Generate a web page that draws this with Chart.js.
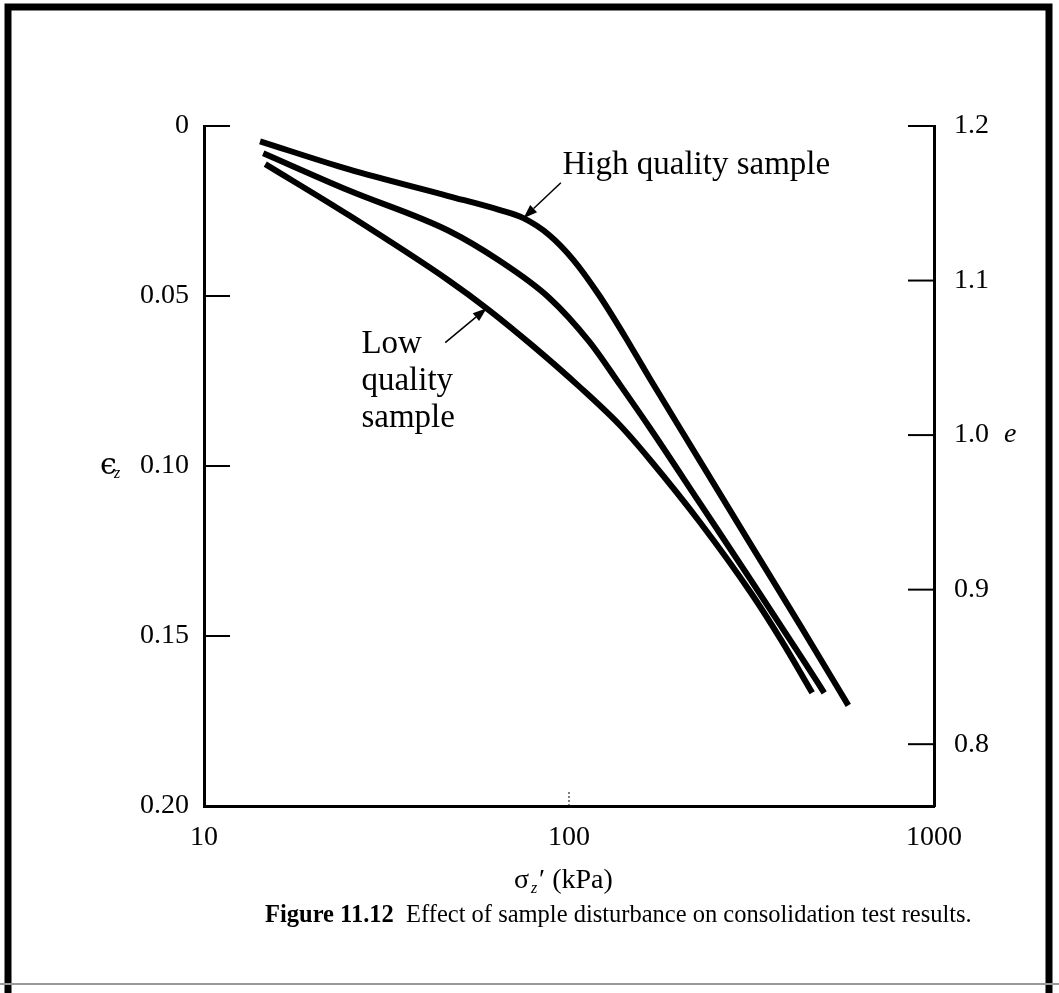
<!DOCTYPE html>
<html>
<head>
<meta charset="utf-8">
<script src="https://cdn.jsdelivr.net/npm/chart.js@4.4.0/dist/chart.umd.min.js"></script>
<style>
  html, body { margin: 0; padding: 0; background: #fff; }
  canvas { display: block; }
</style>
</head>
<body>
<canvas id="chart" width="1059" height="993"></canvas>
<script>
// axis ticks
const stressTicks = [10, 100, 1000];
const strainTicks = [0, 0.05, 0.10, 0.15, 0.20];
const voidTicks = [0.8, 0.9, 1.0, 1.1, 1.2];

// curves: effective stress (kPa) vs vertical strain
const highStress = [14.24, 24.83, 46.7, 64.05, 75.03, 87.9, 103.0, 120.8, 141.8, 166.3, 229.0, 315.2, 434.1, 582.4];
const highStrain = [0.0045, 0.0127, 0.0206, 0.0246, 0.0271, 0.0319, 0.0395, 0.0497, 0.0616, 0.0742, 0.0987, 0.1232, 0.1476, 0.1704];

const midStress = [14.53, 24.86, 46.79, 64.23, 88.19, 113.8, 137.7, 166.8, 229.5, 315.7, 434.7, 500.3];
const midStrain = [0.0080, 0.0189, 0.0308, 0.0395, 0.0505, 0.0635, 0.0760, 0.0889, 0.1113, 0.1337, 0.1565, 0.1667];

const lowStress = [14.72, 24.9, 46.92, 60.46, 79.45, 107.1, 138.1, 167.1, 229.8, 316.0, 382.9, 463.8];
const lowStrain = [0.0112, 0.0262, 0.0455, 0.0542, 0.0646, 0.0768, 0.0881, 0.0983, 0.1169, 0.1375, 0.1515, 0.1667];

const toPoints = (xs, ys) => xs.map((x, i) => ({ x: x, y: ys[i] }));

const serif = '"Liberation Serif", "DejaVu Serif", serif';

function line(data) {
  return {
    data: data,
    borderColor: '#000',
    borderWidth: 6,
    pointRadius: 0,
    fill: false,
    cubicInterpolationMode: 'monotone',
    xAxisID: 'x',
    yAxisID: 'y'
  };
}

function arrow(ctx, x1, y1, x2, y2) {
  const a = Math.atan2(y2 - y1, x2 - x1);
  const len = 14, half = 5;
  ctx.beginPath();
  ctx.moveTo(x1, y1);
  ctx.lineTo(x2 - Math.cos(a) * len, y2 - Math.sin(a) * len);
  ctx.lineWidth = 1.5;
  ctx.stroke();
  ctx.beginPath();
  ctx.moveTo(x2, y2);
  ctx.lineTo(x2 - Math.cos(a) * len - Math.sin(a) * half, y2 - Math.sin(a) * len + Math.cos(a) * half);
  ctx.lineTo(x2 - Math.cos(a) * len + Math.sin(a) * half, y2 - Math.sin(a) * len - Math.cos(a) * half);
  ctx.closePath();
  ctx.fill();
}

const decorations = {
  id: 'decorations',
  beforeDraw(chart) {
    const ctx = chart.ctx;
    ctx.save();
    ctx.fillStyle = '#fff';
    ctx.fillRect(0, 0, chart.width, chart.height);
    ctx.restore();
  },
  afterDraw(chart) {
    const { ctx, chartArea: a, scales } = chart;
    const x = scales.x, y = scales.y, y2 = scales.y2;
    ctx.save();
    ctx.strokeStyle = '#000';
    ctx.fillStyle = '#000';

    // page frame
    ctx.lineWidth = 7;
    ctx.beginPath();
    ctx.moveTo(8, chart.height);
    ctx.lineTo(8, 7);
    ctx.lineTo(1049, 7);
    ctx.lineTo(1049, chart.height);
    ctx.stroke();
    ctx.strokeStyle = '#999';
    ctx.lineWidth = 2;
    ctx.beginPath();
    ctx.moveTo(0, 984);
    ctx.lineTo(chart.width, 984);
    ctx.stroke();
    ctx.strokeStyle = '#000';

    // inward tick marks
    ctx.lineWidth = 2;
    strainTicks.forEach(v => {
      const py = y.getPixelForValue(v);
      ctx.beginPath(); ctx.moveTo(a.left, py); ctx.lineTo(a.left + 26, py); ctx.stroke();
    });
    voidTicks.forEach(v => {
      const py = y2.getPixelForValue(v);
      ctx.beginPath(); ctx.moveTo(a.right, py); ctx.lineTo(a.right - 26, py); ctx.stroke();
    });
    ctx.lineWidth = 1;
    ctx.setLineDash([2, 2]);
    const p100 = x.getPixelForValue(100);
    ctx.beginPath(); ctx.moveTo(p100, a.bottom); ctx.lineTo(p100, a.bottom - 16); ctx.stroke();
    ctx.setLineDash([]);

    // axis symbols
    ctx.textBaseline = 'middle';
    ctx.textAlign = 'left';
    ctx.font = '30px "DejaVu Serif", ' + serif;
    const yEps = y.getPixelForValue(0.10);
    ctx.fillText('\u03F5', a.left - 104, yEps);
    ctx.font = 'italic 16px ' + serif;
    ctx.fillText('z', a.left - 90, yEps + 8);
    ctx.font = 'italic 28px ' + serif;
    ctx.fillText('e', a.right + 70, y2.getPixelForValue(1.0));

    // x axis title
    const cx = x.getPixelForValue(100);
    const ty = a.bottom + 75;
    ctx.font = '28px ' + serif;
    ctx.fillText('\u03C3', cx - 55, ty);
    ctx.font = 'italic 16px ' + serif;
    ctx.fillText('z', cx - 38, ty + 8);
    ctx.font = '28px ' + serif;
    ctx.fillText('\u2032 (kPa)', cx - 30, ty);

    // caption
    const capY = a.bottom + 110;
    ctx.font = 'bold 24.5px ' + serif;
    const fig = 'Figure 11.12';
    ctx.fillText(fig, 265, capY);
    const w = ctx.measureText(fig).width;
    ctx.font = '24.5px ' + serif;
    ctx.fillText('  Effect of sample disturbance on consolidation test results.', 265 + w, capY);

    // annotations
    ctx.font = '33px ' + serif;
    ctx.fillText('High quality sample', x.getPixelForValue(96), y.getPixelForValue(0.0115));
    arrow(ctx, x.getPixelForValue(95), y.getPixelForValue(0.0167), x.getPixelForValue(75.03), y.getPixelForValue(0.0271));

    const lx = x.getPixelForValue(27);
    ['Low', 'quality', 'sample'].forEach((t, i) => {
      ctx.fillText(t, lx, y.getPixelForValue(0.0643) + i * 37);
    });
    arrow(ctx, x.getPixelForValue(45.8), y.getPixelForValue(0.0637), x.getPixelForValue(59.5), y.getPixelForValue(0.0536));
    ctx.restore();
  }
};

const tickFont = { family: serif, size: 28 };

new Chart(document.getElementById('chart'), {
  type: 'line',
  data: {
    datasets: [
      line(toPoints(highStress, highStrain)),
      line(toPoints(midStress, midStrain)),
      line(toPoints(lowStress, lowStrain))
    ]
  },
  options: {
    responsive: false,
    animation: false,
    devicePixelRatio: 1,
    layout: { padding: { top: 126, left: 0, right: 0, bottom: 0 } },
    plugins: { legend: { display: false }, tooltip: { enabled: false } },
    scales: {
      x: {
        type: 'logarithmic',
        position: 'bottom',
        min: 10,
        max: 1000,
        afterBuildTicks: s => { s.ticks = stressTicks.map(v => ({ value: v })); },
        afterFit: s => { s.height = 187; },
        grid: { display: false },
        border: { color: '#000', width: 3 },
        ticks: { color: '#000', font: tickFont, padding: 7, maxRotation: 0, autoSkip: false, callback: v => String(v) }
      },
      y: {
        type: 'linear',
        position: 'left',
        reverse: true,
        min: 0,
        max: 0.2,
        afterBuildTicks: s => { s.ticks = strainTicks.map(v => ({ value: v })); },
        afterFit: s => { s.width = 204; },
        grid: { display: false },
        border: { color: '#000', width: 3 },
        ticks: { color: '#000', font: tickFont, padding: 7, callback: v => v === 0 ? '0' : v.toFixed(2) }
      },
      y2: {
        type: 'linear',
        position: 'right',
        min: 0.76,
        max: 1.2,
        afterBuildTicks: s => { s.ticks = voidTicks.map(v => ({ value: v })); },
        afterFit: s => { s.width = 125; },
        grid: { display: false },
        border: { color: '#000', width: 3 },
        ticks: { color: '#000', font: tickFont, padding: 12, callback: v => v.toFixed(1) }
      }
    }
  },
  plugins: [decorations]
});
</script>
</body>
</html>
